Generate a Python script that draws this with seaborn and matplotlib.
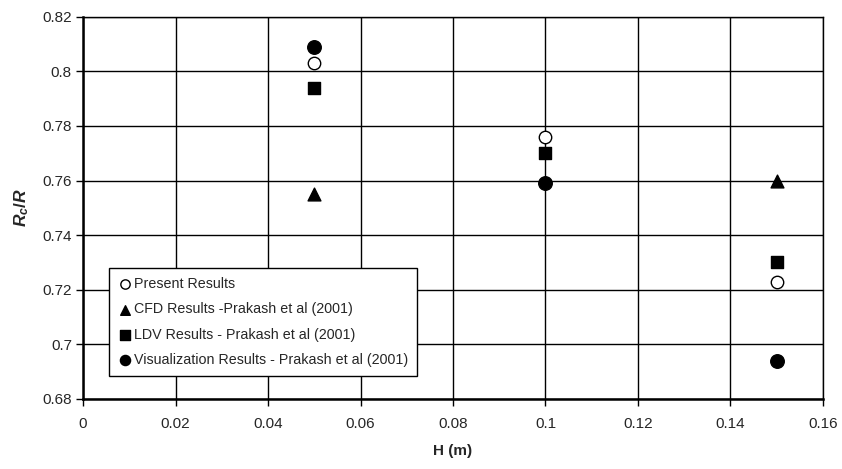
import pandas as pd
import seaborn as sns
import matplotlib.pyplot as plt

# H (m) values and Rc/R for each result set
h_vals = [0.05, 0.10, 0.15]
present = [0.803, 0.776, 0.723]
cfd = [0.755, None, 0.760]
ldv = [0.794, 0.770, 0.730]
visual = [0.809, 0.759, 0.694]

series_names = ["Present Results",
                "CFD Results -Prakash et al (2001)",
                "LDV Results - Prakash et al (2001)",
                "Visualization Results - Prakash et al (2001)"]

rows = []
for name, vals in zip(series_names, [present, cfd, ldv, visual]):
    for h, v in zip(h_vals, vals):
        if v is not None:
            rows.append({"H": h, "RcR": v, "series": name})
df = pd.DataFrame(rows)

sns.set_style("white")
plt.rcParams['font.family'] = ['Liberation Sans', 'DejaVu Sans']
plt.rcParams['mathtext.fontset'] = 'custom'
plt.rcParams['mathtext.it'] = 'Liberation Sans:italic:bold'
plt.rcParams['mathtext.rm'] = 'Liberation Sans:bold'

fig = plt.figure(figsize=(8.42, 4.69), dpi=100)
ax = fig.add_axes([0.0986, 0.1493, 0.8788, 0.8151])

styles = {
    series_names[0]: dict(marker="o", facecolor="white", s=80),
    series_names[1]: dict(marker="^", facecolor="black", s=85),
    series_names[2]: dict(marker="s", facecolor="black", s=80),
    series_names[3]: dict(marker="o", facecolor="black", s=95),
}
for name in series_names:
    st = styles[name]
    sns.scatterplot(data=df[df["series"] == name], x="H", y="RcR", ax=ax,
                    marker=st["marker"], color=st["facecolor"], edgecolor="black",
                    linewidth=1, s=st["s"], label=name, zorder=3)

ax.set_xlim(0, 0.16)
ax.set_ylim(0.68, 0.82)
ax.set_xticks([0, 0.02, 0.04, 0.06, 0.08, 0.1, 0.12, 0.14, 0.16])
ax.set_xticklabels(["0", "0.02", "0.04", "0.06", "0.08", "0.1", "0.12", "0.14", "0.16"])
ax.set_yticks([0.68, 0.7, 0.72, 0.74, 0.76, 0.78, 0.8, 0.82])
ax.set_yticklabels(["0.68", "0.7", "0.72", "0.74", "0.76", "0.78", "0.8", "0.82"])
ax.grid(True, color="black", linewidth=1)
ax.set_axisbelow(True)
for side in ["top", "right"]:
    ax.spines[side].set_color("black")
    ax.spines[side].set_linewidth(1)
for side in ["left", "bottom"]:
    ax.spines[side].set_color("black")
    ax.spines[side].set_linewidth(1.8)
ax.tick_params(axis="both", direction="out", length=5, width=1, color="black",
               labelsize=11, bottom=True, left=True)
ax.tick_params(axis="x", pad=8)
ax.tick_params(axis="y", pad=3)
ax.xaxis.labelpad = 9
ax.set_xlabel("H (m)", fontsize=11, fontweight="bold")
ax.set_ylabel(r"$R_c/R$", fontsize=12.5, labelpad=8)

leg = ax.legend(loc="lower left", bbox_to_anchor=(0.026, 0.042), fontsize=10.3,
                frameon=True, fancybox=False, edgecolor="black", framealpha=1,
                handletextpad=0.1, handlelength=1.0, labelspacing=0.8,
                borderpad=0.6, markerscale=0.75)
leg.get_frame().set_linewidth(1)

plt.savefig("out.png", dpi=100)
